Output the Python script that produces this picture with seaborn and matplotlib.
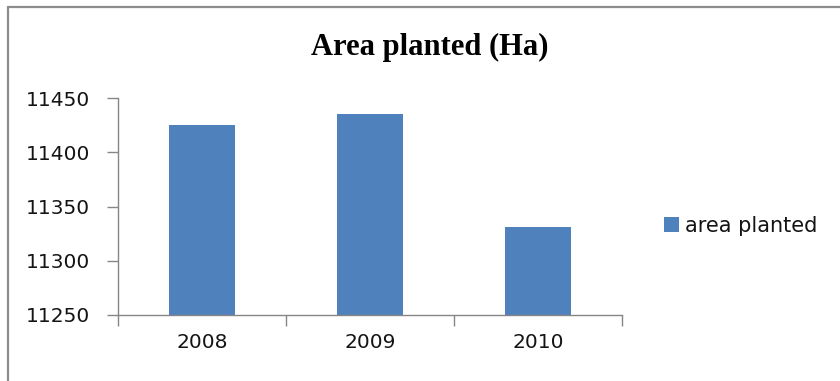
import matplotlib
matplotlib.use("Agg")
import matplotlib.pyplot as plt
from matplotlib.lines import Line2D
from matplotlib.patches import Patch
import seaborn as sns

# --- data ---
YEARS = ["2008", "2009", "2010"]
AREA_PLANTED = [11425, 11435, 11331]
SERIES_LABEL = "area planted"
TITLE = "Area planted (Ha)"
Y_TICKS = [11250, 11300, 11350, 11400, 11450]

BAR_COLOR = "#4F81BD"
AXIS_COLOR = "#868686"
TEXT_COLOR = "#141414"
W, H = 840, 381

sns.set_theme(style="white")
plt.rcParams["font.family"] = ["DejaVu Sans"]

fig = plt.figure(figsize=(W / 100, H / 100), dpi=100)
ax = fig.add_axes([118 / W, 66 / H, 504 / W, 217 / H])

sns.barplot(x=YEARS, y=AREA_PLANTED, color=BAR_COLOR, width=0.39,
            linewidth=0, saturation=1, ax=ax)

ax.set_ylim(Y_TICKS[0], Y_TICKS[-1])
ax.set_xlim(-0.5, len(YEARS) - 0.5)
ax.set_yticks(Y_TICKS)
ax.set_yticklabels([str(v) for v in Y_TICKS], fontsize=14.5, color=TEXT_COLOR)

# category boundaries get the tick marks, labels sit between them
ax.set_xticks([i - 0.5 for i in range(len(YEARS) + 1)])
ax.set_xticklabels([""] * (len(YEARS) + 1))
ax.set_xticks(range(len(YEARS)), minor=True)
ax.set_xticklabels(YEARS, minor=True, fontsize=14.5, color=TEXT_COLOR)
ax.tick_params(axis="x", which="minor", length=0, pad=13)
ax.tick_params(axis="x", which="major", direction="out", length=8,
               width=1, color=AXIS_COLOR, bottom=True)
ax.tick_params(axis="y", direction="out", length=8, width=1,
               color=AXIS_COLOR, left=True, pad=12)

for side in ["top", "right"]:
    ax.spines[side].set_visible(False)
for side in ["left", "bottom"]:
    ax.spines[side].set_color(AXIS_COLOR)
    ax.spines[side].set_linewidth(1)
ax.set_xlabel("")
ax.set_ylabel("")

fig.text(430 / W, 1 - 47 / H, TITLE, ha="center", va="center", color="black",
         fontsize=22, fontweight="bold", family=["Liberation Serif"])

handle = Patch(facecolor=BAR_COLOR, edgecolor="none")
fig.legend([handle], [SERIES_LABEL], loc="center left",
           bbox_to_anchor=(664 / W, 1 - 226 / H), frameon=False,
           fontsize=15, handlelength=0.72, handleheight=0.72,
           handletextpad=0.3, borderpad=0, borderaxespad=0,
           labelcolor=TEXT_COLOR)

# chart-area frame (top and left visible, rest cut off in the reference)
fig.add_artist(Line2D([8 / W, 1], [1 - 7 / H, 1 - 7 / H],
                      transform=fig.transFigure, color="#8c8c8c", lw=1.6))
fig.add_artist(Line2D([8 / W, 8 / W], [0, 1 - 7 / H],
                      transform=fig.transFigure, color="#8c8c8c", lw=1.6))

fig.savefig("out.png", dpi=100)
plt.close(fig)
